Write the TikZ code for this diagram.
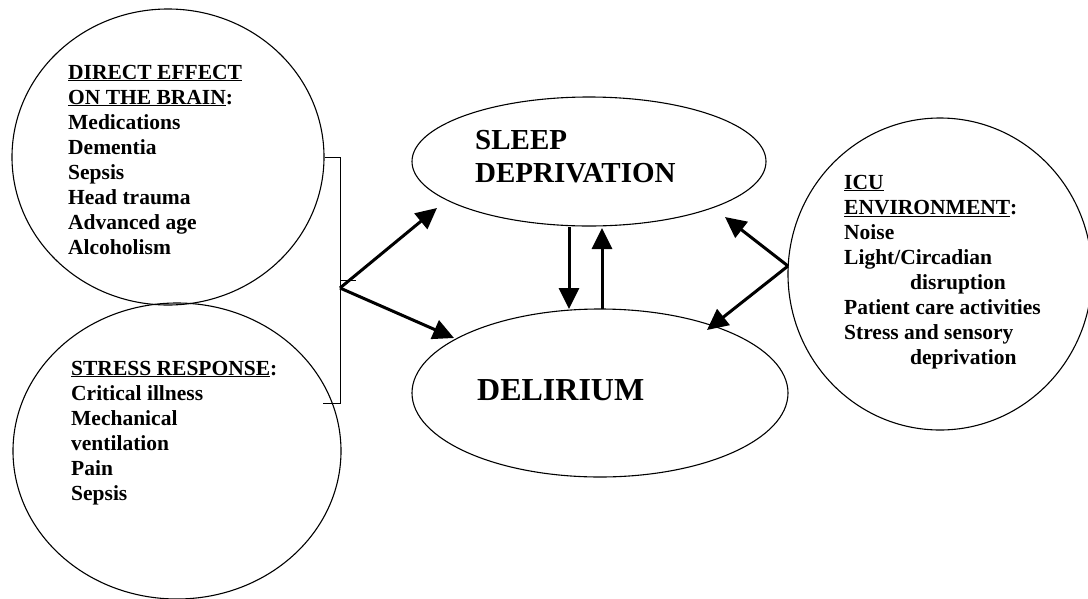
\documentclass[tikz,border=0pt]{standalone}
\usepackage{fontspec}
\setmainfont{Liberation Serif}
\usetikzlibrary{shapes.geometric,arrows.meta}
\tikzset{
  bubble/.style={draw, ellipse, line width=1.1pt, inner sep=0pt},
  body/.style={anchor=base west, inner sep=0pt, font=\bfseries\fontsize{21.5}{25}\selectfont},
  thickarrow/.style={line width=3pt, -{Triangle[length=21pt,width=20pt]}},
  thin/.style={line width=1pt}
}
\begin{document}
\begin{tikzpicture}[x=1pt,y=-1pt]
\useasboundingbox (0,0) rectangle (1088,598);
% circles / ellipses
\node[bubble, minimum width=312pt, minimum height=296pt] (brain) at (168,157) {};
\node[bubble, minimum width=328pt, minimum height=296pt] (stress) at (177,451) {};
\node[bubble, minimum width=304pt, minimum height=312pt] (icu) at (940,274) {};
\node[bubble, minimum width=354pt, minimum height=129pt] (sleep) at (589,161.5) {};
\node[bubble, minimum width=376pt, minimum height=168pt] (delirium) at (600,393) {};
% texts
\node[body] (brainText) at (68,79) {\begin{tabular}[t]{@{}l@{}}
\underline{DIRECT EFFECT}\\
\underline{ON THE BRAIN}:\\
Medications\\
Dementia\\
Sepsis\\
Head trauma\\
Advanced age\\
Alcoholism
\end{tabular}};
\node[body] (stressText) at (71,375) {\begin{tabular}[t]{@{}l@{}}
\underline{STRESS RESPONSE}:\\
Critical illness\\
Mechanical\\
ventilation\\
Pain\\
Sepsis
\end{tabular}};
\node[body] (icuText) at (844,189) {\begin{tabular}[t]{@{}l@{}}
\underline{ICU}\\
\underline{ENVIRONMENT}:\\
Noise\\
Light/Circadian\\
\hspace*{66pt}disruption\\
Patient care activities\\
Stress and sensory\\
\hspace*{66pt}deprivation
\end{tabular}};
\node[anchor=base west, inner sep=0pt, font=\bfseries\fontsize{29}{33}\selectfont] (sleepText) at (475,149) {\begin{tabular}[t]{@{}l@{}}SLEEP\\DEPRIVATION\end{tabular}};
\node[anchor=base west, inner sep=0pt, font=\bfseries\fontsize{32}{40}\selectfont] (delText) at (477,400) {DELIRIUM};
% bracket
\coordinate (brTop) at (340,157);
\coordinate (brBot) at (323,403);
\coordinate (J) at (340,288);
\draw[thin] (brain.east) -- (brTop) |- (brBot);
\draw[thin] (340,280) -- (356,280);
% arrow ends
\coordinate (tipS1) at (437,208);
\coordinate (tipD1) at (454,338);
\coordinate (sDownA) at (569,227);
\coordinate (sDownB) at (569,309);
\coordinate (sUpA) at (602,309);
\coordinate (sUpB) at (602,228);
\coordinate (R) at (788,266);
\coordinate (tipS2) at (725,217);
\coordinate (tipD2) at (707,330);
\draw[thickarrow] (J) -- (tipS1);
\draw[thickarrow] (J) -- (tipD1);
\draw[thickarrow] (sDownA) -- (sDownB);
\draw[thickarrow] (sUpA) -- (sUpB);
\draw[thickarrow] (R) -- (tipS2);
\draw[thickarrow] (R) -- (tipD2);
\end{tikzpicture}
\end{document}
